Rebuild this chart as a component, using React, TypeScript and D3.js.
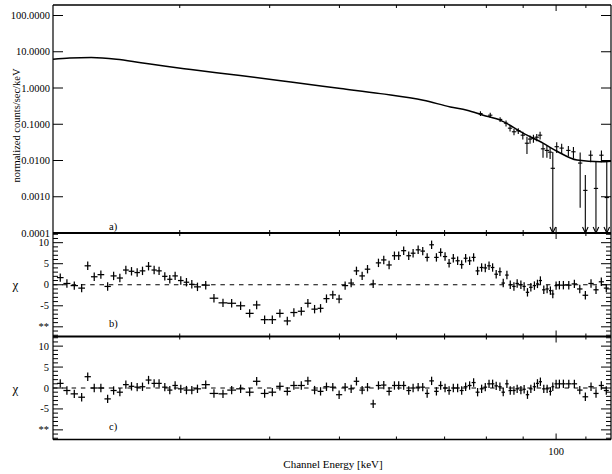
import React from 'react';
import * as d3 from 'd3';

// ---- data ----
const energies = [
  20.47, 20.91, 21.41, 21.92, 22.35, 22.82, 23.31, 23.82, 24.28, 24.77,
  25.25, 25.71, 26.18, 26.63, 27.15, 27.64, 28.08, 28.60, 29.06, 29.56,
  30.10, 30.65, 31.18, 31.75, 32.60, 33.47, 34.45, 35.42, 36.45, 37.52,
  38.37, 39.36, 40.34, 41.33, 42.32, 43.22, 44.26, 45.20, 46.18, 47.07,
  47.97, 48.95, 49.95, 50.92, 51.91, 52.80, 53.77, 54.70, 55.70, 56.65,
  57.62, 58.61, 59.62, 60.44, 61.41, 62.41, 63.29, 64.32, 65.27, 66.20,
  67.15, 68.19, 69.12, 70.10, 71.01, 71.98, 72.98, 73.93, 74.87, 75.83,
  76.81, 77.79, 78.80, 79.73, 80.69, 81.62, 82.56, 83.55, 84.44, 85.44,
  86.36, 87.38, 88.29, 89.35, 90.28, 91.25, 92.24, 93.30, 94.21, 95.10,
  96.14, 97.17, 98.19, 98.95, 100.0, 101.06, 102.36, 104.14, 106.02, 107.87,
  109.81, 111.82, 113.62, 115.57, 117.42,
];

const chiB = [
  1.7, 0.3, -0.2, -0.8, 4.5, 1.9, 2.4, -0.4, 2.1, 1.6,
  3.5, 3.2, 2.9, 3.3, 4.4, 3.5, 3.3, 2.0, 1.3, 2.1,
  1.0, 0.6, 0.1, -0.5, -0.1, -3.2, -4.3, -4.4, -5.0, -6.8,
  -4.8, -8.3, -8.3, -6.8, -8.6, -6.6, -6.3, -4.4, -5.8, -5.6,
  -3.3, -2.4, -3.4, -0.2, 0.4, 3.3, 2.1, 3.7, 0.2, 5.2,
  5.9, 4.7, 6.9, 6.9, 8.1, 6.9, 7.5, 8.3, 8.0, 6.5,
  9.5, 6.5, 7.7, 6.7, 5.1, 6.3, 5.7, 4.8, 6.3, 5.7,
  6.5, 3.3, 4.1, 4.0, 4.5, 4.1, 2.5, 3.1, 0.4, 2.3,
  0.0, -0.4, 0.3, 0.0, -0.4, -1.8, -0.6, -0.2, 0.2, 1.0,
  -1.2, -1.0, -1.4, -2.2, -0.2, -0.1, -0.1, -0.1, 0.2, -1.0,
  -2.5, 0.3, -1.2, 0.7, -0.8,
];

const chiC = [
  1.1, -0.6, -1.4, -2.2, 2.7, 0.0, 0.0, -2.6, -0.6, -1.0,
  0.8, 0.4, 0.2, 0.3, 1.9, 1.1, 1.1, 0.2, -0.5, 0.6,
  -0.2, -0.5, -0.5, -0.2, 0.8, -1.3, -1.4, -0.5, -0.2, -1.0,
  1.6, -1.3, -1.0, 0.4, -0.8, 0.6, 0.6, 1.7, -0.5, -0.8,
  0.3, 0.2, -1.6, 0.2, -0.2, 1.6, -0.5, 0.2, -3.8, 0.6,
  0.7, -0.8, 0.6, 0.6, 0.6, -0.6, 0.0, 0.2, 0.2, -1.3,
  1.7, -0.8, 0.6, 0.0, -0.6, 0.0, 0.0, -0.6, 0.3, 0.6,
  1.3, -1.0, -0.2, 0.2, 1.0, 1.0, 0.5, 0.3, -1.0, 1.0,
  -0.6, -0.6, -0.2, -0.5, -0.3, -1.6, -0.2, 0.3, 1.1, 1.5,
  -0.2, -0.2, -0.8, 0.3, 1.0, 1.0, 1.0, 1.0, 1.0, -0.5,
  -2.1, 0.3, -1.3, 0.6, -0.6,
];

// model curve (panel a)
const modelE = [20.0, 21.1, 22.6, 24.5, 26.5, 28.7, 31.1, 36.4, 42.8, 50.2, 57.0, 65.4, 71.3, 75.2, 79.2, 83.6, 90.0, 95.9, 100.3, 106.9, 115.1, 119.2];
const modelF = [6.2, 6.7, 6.92, 6.23, 4.99, 3.97, 3.24, 2.2, 1.46, 0.97, 0.70, 0.46, 0.30, 0.244, 0.178, 0.130, 0.057, 0.030, 0.018, 0.0103, 0.0092, 0.0096];

// visible data points in panel a (high energy part)
const specE = [78.5, 81.0, 83.6, 85.2, 86.3, 87.4, 88.6, 89.9, 91.1, 92.0, 93.0, 94.0, 95.0, 95.9, 97.1, 98.1, 98.95, 100.2, 101.8, 104.0, 105.7, 108.0, 109.8, 111.7, 113.6, 115.6, 117.6];
const specF = [0.198, 0.178, 0.136, 0.107, 0.078, 0.062, 0.066, 0.050, 0.030, 0.039, 0.041, 0.044, 0.050, 0.021, 0.019, 0.017, 0.0061, 0.024, 0.022, 0.019, 0.0174, 0.0085, 0.0015, 0.014, 0.0017, 0.014, 0.00095];
const specSig = [0.03, 0.03, 0.02, 0.02, 0.015, 0.012, 0.012, 0.012, 0.015, 0.01, 0.01, 0.01, 0.012, 0.009, 0.007, 0.006, 0.011, 0.008, 0.007, 0.006, 0.006, 0.008, 0.0025, 0.005, 0.0075, 0.005, 0.0083];

const fluxTicks = [100, 10, 1, 0.1, 0.01, 0.001, 0.0001];
const fluxTickLabels = ['100.0000', '10.0000', '1.0000', '0.1000', '0.0100', '0.0010', '0.0001'];
const chiTicks = [10, 5, 0, -5, -10];
const chiTickLabels = ['10', '5', '0', '-5', '**'];
const chiMinorTicks = [-12, -11, -9, -8, -7, -6, -4, -3, -2, -1, 1, 2, 3, 4, 6, 7, 8, 9, 11, 12];
const xMinorTicks = [30, 40, 50, 60, 70, 80, 90, 110];
const xMajorTicks = [100];
const xTickLabels = ['100'];

// ---- layout ----
const W = 612, H = 474;
const L = 53, R = 611;
const aTop = 5, aBot = 233, bBot = 336.5, cBot = 439.5;
const TXT: React.CSSProperties = { fontFamily: '"Liberation Serif", "DejaVu Serif", serif' };

const x = d3.scaleLog().domain([20, 119.2]).range([L, R]);
const yA = d3.scaleLog().domain([1e-4, 195]).range([aBot, aTop]);
const yB = d3.scaleLinear().domain([-12.3, 12.3]).range([bBot, aBot]);
const yC = d3.scaleLinear().domain([-12.3, 12.3]).range([cBot, bBot]);

const lg = Math.log10;
function halfW(arr: number[], i: number) {
  const prev = i > 0 ? lg(arr[i - 1]) : 2 * lg(arr[i]) - lg(arr[i + 1]);
  const next = i < arr.length - 1 ? lg(arr[i + 1]) : 2 * lg(arr[i]) - lg(arr[i - 1]);
  return (next - prev) / 4;
}

function XTicks({ top, bot }: { top: number; bot: number }) {
  return (
    <g stroke="#000" strokeWidth={1}>
      {xMinorTicks.map((t) => (
        <g key={'m' + t}>
          <line x1={x(t)} x2={x(t)} y1={top} y2={top + 3} />
          <line x1={x(t)} x2={x(t)} y1={bot} y2={bot - 3} />
        </g>
      ))}
      {xMajorTicks.map((t) => (
        <g key={'M' + t}>
          <line x1={x(t)} x2={x(t)} y1={top} y2={top + 6} />
          <line x1={x(t)} x2={x(t)} y1={bot} y2={bot - 6} />
        </g>
      ))}
    </g>
  );
}

function ChiPanel({ y, vals, label, top, bot }: { y: any; vals: number[]; label: string; top: number; bot: number }) {
  return (
    <g>
      <g stroke="#000" strokeWidth={1}>
        {chiTicks.map((t) => (
          <g key={'t' + t}>
            <line x1={L} x2={L + 10} y1={y(t)} y2={y(t)} />
            <line x1={R} x2={R - 10} y1={y(t)} y2={y(t)} />
          </g>
        ))}
        {chiMinorTicks.map((t) => (
          <g key={'n' + t}>
            <line x1={L} x2={L + 5} y1={y(t)} y2={y(t)} />
            <line x1={R} x2={R - 5} y1={y(t)} y2={y(t)} />
          </g>
        ))}
      </g>
      <XTicks top={top} bot={bot} />
      {chiTicks.map((t, i) => (
        <text key={'l' + t} x={49} y={y(t)} textAnchor="end" dominantBaseline="central" style={TXT} fontSize={10.5}>
          {chiTickLabels[i]}
        </text>
      ))}
      <text x={15.5} y={y(0)} textAnchor="middle" dominantBaseline="central" style={TXT} fontSize={13}>χ</text>
      <line x1={L} x2={R} y1={y(0)} y2={y(0)} stroke="#000" strokeWidth={1} strokeDasharray="4.5 4.8" />
      <g stroke="#000" strokeWidth={1.25}>
        {energies.map((e, i) => {
          const h = halfW(energies, i);
          const cx = x(e);
          return (
            <g key={i}>
              <line x1={x(Math.pow(10, lg(e) - h))} x2={x(Math.pow(10, lg(e) + h))} y1={y(vals[i])} y2={y(vals[i])} />
              <line x1={cx} x2={cx} y1={y(vals[i] - 1)} y2={y(vals[i] + 1)} />
            </g>
          );
        })}
      </g>
      <text x={109} y={(top + bot) / 2 + 38.5} dominantBaseline="central" style={TXT} fontSize={10.5}>{label}</text>
    </g>
  );
}

export default function App() {
  const modelLine = d3
    .line<number>()
    .x((_, i) => x(modelE[i]))
    .y((d) => yA(d))
    .curve(d3.curveMonotoneX)(modelF) as string;

  return (
    <svg width={W} height={H} style={{ position: 'absolute', left: 0, top: 0, background: '#fff' }}>
      <rect x={0} y={0} width={W} height={H} fill="#fff" />
      <g stroke="#000" strokeWidth={1}>
        {fluxTicks.map((t) => (
          <g key={t}>
            <line x1={L} x2={L + 10} y1={yA(t)} y2={yA(t)} />
            <line x1={R} x2={R - 10} y1={yA(t)} y2={yA(t)} />
          </g>
        ))}
      </g>
      <XTicks top={aTop} bot={aBot} />
      {fluxTicks.map((t, i) => (
        <text key={'fl' + t} x={50} y={yA(t)} textAnchor="end" dominantBaseline="central" style={TXT} fontSize={10.5}>
          {fluxTickLabels[i]}
        </text>
      ))}
      <text
        transform={`translate(16,125.5) rotate(-90)`}
        textAnchor="middle"
        dominantBaseline="central"
        style={TXT}
        fontSize={10.5}
      >
        normalized counts/sec/keV
      </text>
      <path d={modelLine} fill="none" stroke="#000" strokeWidth={1.5} />
      <g stroke="#000" strokeWidth={1.1} fill="none">
        {specE.map((e, i) => {
          const f = specF[i];
          const s = specSig[i];
          const cx = x(e);
          const lo = f - s;
          const hi = f + s;
          const h = 0.003;
          const isLimit = lo <= 1e-4;
          const yLow = isLimit ? aBot : yA(lo);
          return (
            <g key={i}>
              <line x1={x(Math.pow(10, lg(e) - h))} x2={x(Math.pow(10, lg(e) + h))} y1={yA(f)} y2={yA(f)} />
              <line x1={cx} x2={cx} y1={yA(hi)} y2={yLow} />
              {isLimit && <polyline points={`${cx - 2.8},${aBot - 6} ${cx},${aBot} ${cx + 2.8},${aBot - 6}`} />}
            </g>
          );
        })}
      </g>
      <text x={109} y={226} dominantBaseline="central" style={TXT} fontSize={10.5}>a)</text>

      <ChiPanel y={yB} vals={chiB} label="b)" top={aBot} bot={bBot} />
      <ChiPanel y={yC} vals={chiC} label="c)" top={bBot} bot={cBot} />

      <g stroke="#000" fill="none">
        <line x1={L} x2={L} y1={aTop} y2={cBot} strokeWidth={1.2} />
        <line x1={R} x2={R} y1={aTop} y2={cBot} strokeWidth={1.2} />
        <line x1={L} x2={R} y1={aTop} y2={aTop} strokeWidth={1.3} />
        <line x1={L} x2={R} y1={aBot} y2={aBot} strokeWidth={2} />
        <line x1={L} x2={R} y1={bBot} y2={bBot} strokeWidth={2} />
        <line x1={L} x2={R} y1={cBot} y2={cBot} strokeWidth={1.5} />
      </g>

      {xMajorTicks.map((t, i) => (
        <text key={'xl' + t} x={x(t)} y={451} textAnchor="middle" dominantBaseline="central" style={TXT} fontSize={10.5}>
          {xTickLabels[i]}
        </text>
      ))}
      <text x={333} y={464} textAnchor="middle" dominantBaseline="central" style={TXT} fontSize={11}>
        Channel Energy [keV]
      </text>
    </svg>
  );
}
